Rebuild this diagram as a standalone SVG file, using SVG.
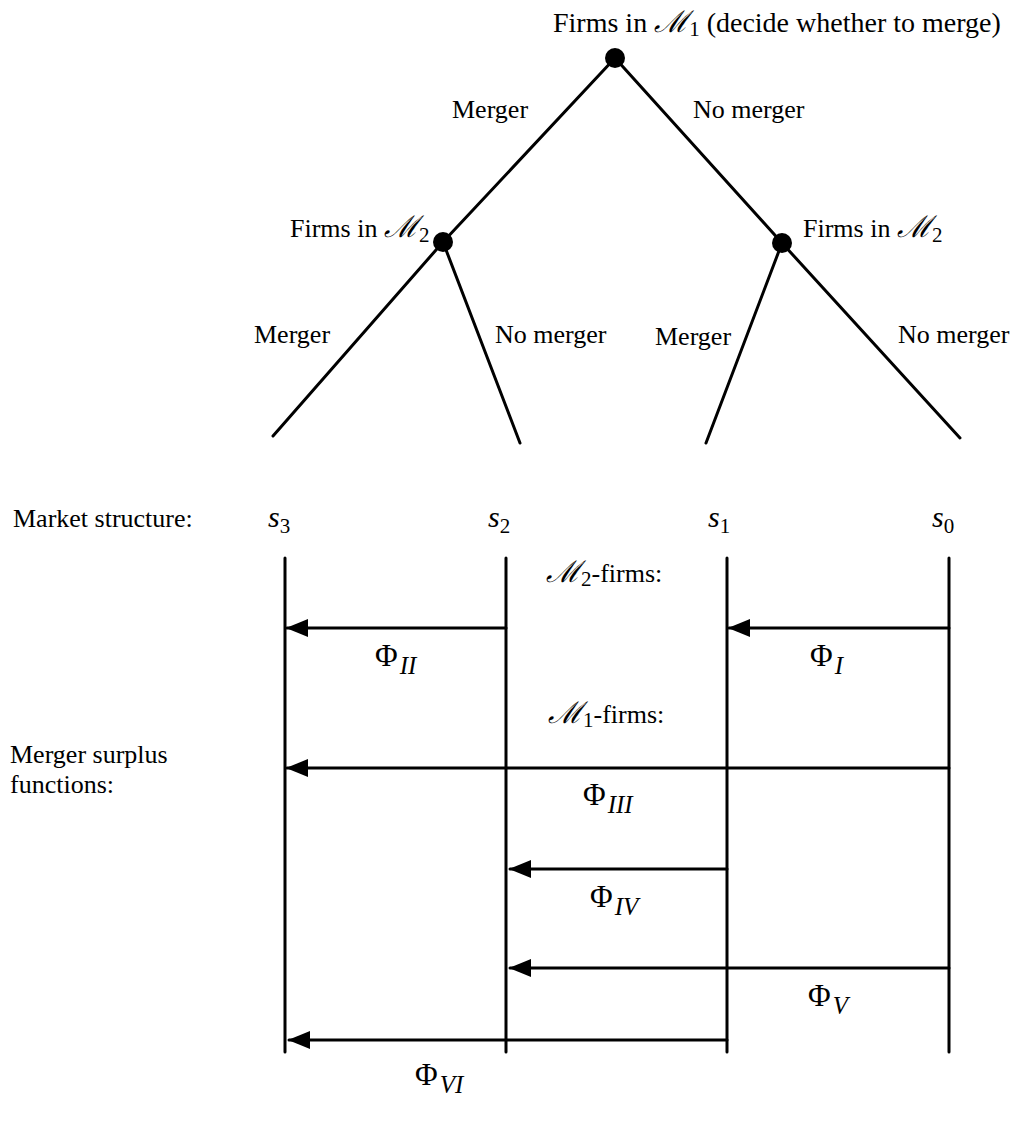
<svg xmlns="http://www.w3.org/2000/svg" width="1015" height="1122" viewBox="0 0 1015 1122">
  <style>
    text { font-family: "Liberation Serif", "Times New Roman", serif; font-size: 26px; fill: #000; }
    .title { font-size: 28px; }
    .cal { font-family: "DejaVu Serif", "Liberation Serif", serif; font-style: italic; font-size: 30px; }
    .sub { font-size: 21px; }
    .phi { font-size: 31px; }
    .rn { font-style: italic; font-size: 25px; }
    .it { font-style: italic; font-size: 30px; }
    .edge { stroke: #000; stroke-width: 3; fill: none; stroke-linecap: round; }
    .node { fill: #000; }
  </style>
  <defs>
    <!-- solid triangular head, tip on the line end -->
    <marker id="arrow" markerUnits="userSpaceOnUse" markerWidth="22" markerHeight="18" viewBox="0 0 22 18" refX="21" refY="9" orient="auto">
      <path d="M0,0 L22,9 L0,18 Z" fill="#000"/>
    </marker>
  </defs>

  <!-- game tree -->
  <g id="tree-edges">
    <line class="edge" x1="615" y1="58" x2="443" y2="242"/>
    <line class="edge" x1="615" y1="58" x2="782" y2="243"/>
    <line class="edge" x1="443" y1="242" x2="273" y2="436"/>
    <line class="edge" x1="443" y1="242" x2="520" y2="443"/>
    <line class="edge" x1="782" y1="243" x2="706" y2="443"/>
    <line class="edge" x1="782" y1="243" x2="960" y2="438"/>
  </g>

  <g id="root">
    <circle class="node" cx="615" cy="58" r="10"/>
    <text class="title" x="553" y="32">Firms in <tspan class="cal">ℳ</tspan><tspan class="sub" dy="4">1</tspan><tspan dy="-4"> (decide whether to merge)</tspan></text>
  </g>
  <g id="m2-left">
    <circle class="node" cx="443" cy="242" r="10"/>
    <text x="290" y="237">Firms in <tspan class="cal">ℳ</tspan><tspan class="sub" dy="5">2</tspan></text>
  </g>
  <g id="m2-right">
    <circle class="node" cx="782" cy="243" r="10"/>
    <text x="803" y="237">Firms in <tspan class="cal">ℳ</tspan><tspan class="sub" dy="5">2</tspan></text>
  </g>

  <g id="edge-labels">
    <text x="452" y="118">Merger</text>
    <text x="693" y="118">No merger</text>
    <text x="254" y="343">Merger</text>
    <text x="495" y="343">No merger</text>
    <text x="655" y="345">Merger</text>
    <text x="898" y="343">No merger</text>
  </g>

  <!-- market structures -->
  <g id="structures">
    <text x="13" y="527">Market structure:</text>
    <text x="268" y="527"><tspan class="it">s</tspan><tspan class="sub" dy="6">3</tspan></text>
    <text x="488" y="527"><tspan class="it">s</tspan><tspan class="sub" dy="6">2</tspan></text>
    <text x="708" y="527"><tspan class="it">s</tspan><tspan class="sub" dy="6">1</tspan></text>
    <text x="932" y="527"><tspan class="it">s</tspan><tspan class="sub" dy="6">0</tspan></text>
  </g>

  <g id="axes">
    <line class="edge" x1="285" y1="558" x2="285" y2="1052"/>
    <line class="edge" x1="506" y1="558" x2="506" y2="1052"/>
    <line class="edge" x1="727" y1="558" x2="727" y2="1052"/>
    <line class="edge" x1="949" y1="558" x2="949" y2="1052"/>
  </g>

  <g id="surplus-labels">
    <text x="10" y="763">Merger surplus</text>
    <text x="10" y="793">functions:</text>
    <text x="546" y="582"><tspan class="cal">ℳ</tspan><tspan class="sub" dy="4">2</tspan><tspan dy="-4">-firms:</tspan></text>
    <text x="548" y="723"><tspan class="cal">ℳ</tspan><tspan class="sub" dy="4">1</tspan><tspan dy="-4">-firms:</tspan></text>
  </g>

  <!-- merger surplus arrows -->
  <g id="connectors">
    <line class="edge" x1="506" y1="628" x2="287" y2="628" marker-end="url(#arrow)"/>
    <line class="edge" x1="949" y1="628" x2="729" y2="628" marker-end="url(#arrow)"/>
    <line class="edge" x1="949" y1="768" x2="287" y2="768" marker-end="url(#arrow)"/>
    <line class="edge" x1="727" y1="869" x2="510" y2="869" marker-end="url(#arrow)"/>
    <line class="edge" x1="949" y1="968" x2="510" y2="968" marker-end="url(#arrow)"/>
    <line class="edge" x1="727" y1="1040" x2="289" y2="1040" marker-end="url(#arrow)"/>
  </g>

  <g id="phi-labels">
    <text x="375" y="666"><tspan class="phi">Φ</tspan><tspan class="rn" dx="2" dy="8">II</tspan></text>
    <text x="810" y="666"><tspan class="phi">Φ</tspan><tspan class="rn" dx="2" dy="8">I</tspan></text>
    <text x="583" y="805"><tspan class="phi">Φ</tspan><tspan class="rn" dx="2" dy="8">III</tspan></text>
    <text x="590" y="907"><tspan class="phi">Φ</tspan><tspan class="rn" dx="2" dy="8">IV</tspan></text>
    <text x="808" y="1006"><tspan class="phi">Φ</tspan><tspan class="rn" dx="2" dy="8">V</tspan></text>
    <text x="415" y="1085"><tspan class="phi">Φ</tspan><tspan class="rn" dx="2" dy="8">VI</tspan></text>
  </g>
</svg>
